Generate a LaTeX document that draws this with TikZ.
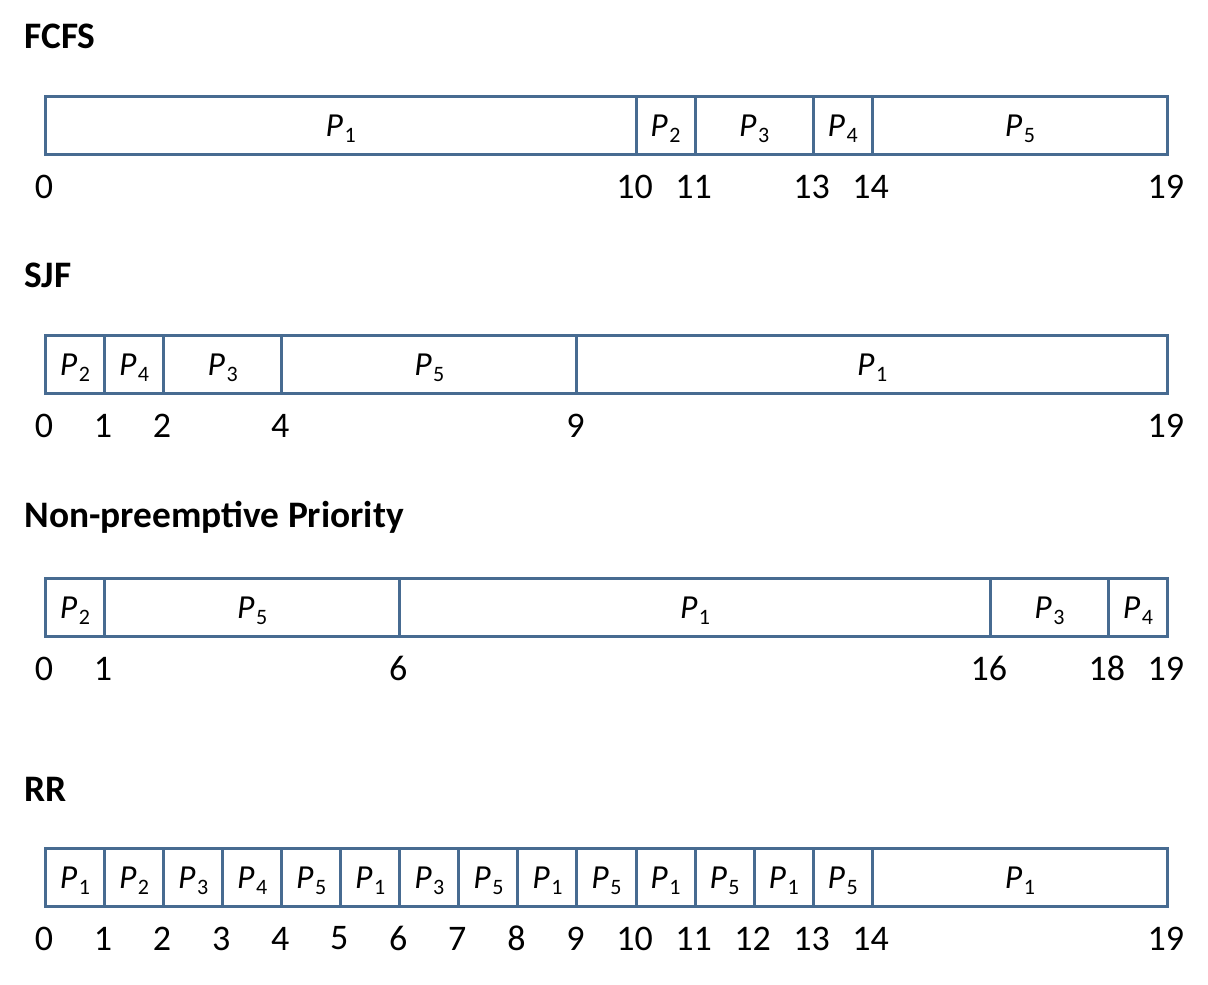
\documentclass[tikz,border=0pt]{standalone}
\usepackage{fontspec}
\setmainfont{Carlito}
\definecolor{barc}{RGB}{71,107,145}
\newcommand\PP[1]{\textit{P}\kern0.8pt\smash{\raisebox{-3pt}{\fontsize{11}{12}\selectfont #1}}}
\newcommand\ganttrow[4]{%
  \foreach \a/\b/\p [count=\i] in {#3} {
    \node[segbox, minimum width={(\b-\a)*29.526pt}] (#1-s\i) at ({44+\a*59.05},#2) {\PP{\p}};
  }
  \foreach \t in {#4} {
    \node[numlbl] (#1-t\t) at ({44+\t*59.05},#2+61) {\t};
  }
}
\begin{document}
\begin{tikzpicture}[x=0.5pt,y=-0.5pt,
  segbox/.style={draw=barc, line width=1.5pt, minimum height=29pt, inner sep=0pt, anchor=west, font=\fontsize{16.8}{18}\selectfont},
  numlbl/.style={inner sep=0pt, font=\fontsize{18}{20}\selectfont},
  titlelbl/.style={inner sep=0pt, anchor=west, font=\fontsize{18.7}{22}\selectfont\bfseries}]
\useasboundingbox (0,0) rectangle (1208,984);
\node[titlelbl] (t1) at (24,36) {FCFS};
\node[titlelbl] (t2) at (24,275) {SJF};
\node[titlelbl] (t3) at (24,517) {Non-preemptive Priority};
\node[titlelbl] (t4) at (24,789) {RR};
\ganttrow{fcfs}{126}{0/10/1,10/11/2,11/13/3,13/14/4,14/19/5}{0,10,11,13,14,19}
\ganttrow{sjf}{364.5}{0/1/2,1/2/4,2/4/3,4/9/5,9/19/1}{0,1,2,4,9,19}
\ganttrow{prio}{607.5}{0/1/2,1/6/5,6/16/1,16/18/3,18/19/4}{0,1,6,16,18,19}
\ganttrow{rr}{877.5}{0/1/1,1/2/2,2/3/3,3/4/4,4/5/5,5/6/1,6/7/3,7/8/5,8/9/1,9/10/5,10/11/1,11/12/5,12/13/1,13/14/5,14/19/1}{0,1,2,3,4,5,6,7,8,9,10,11,12,13,14,19}
\end{tikzpicture}
\end{document}
